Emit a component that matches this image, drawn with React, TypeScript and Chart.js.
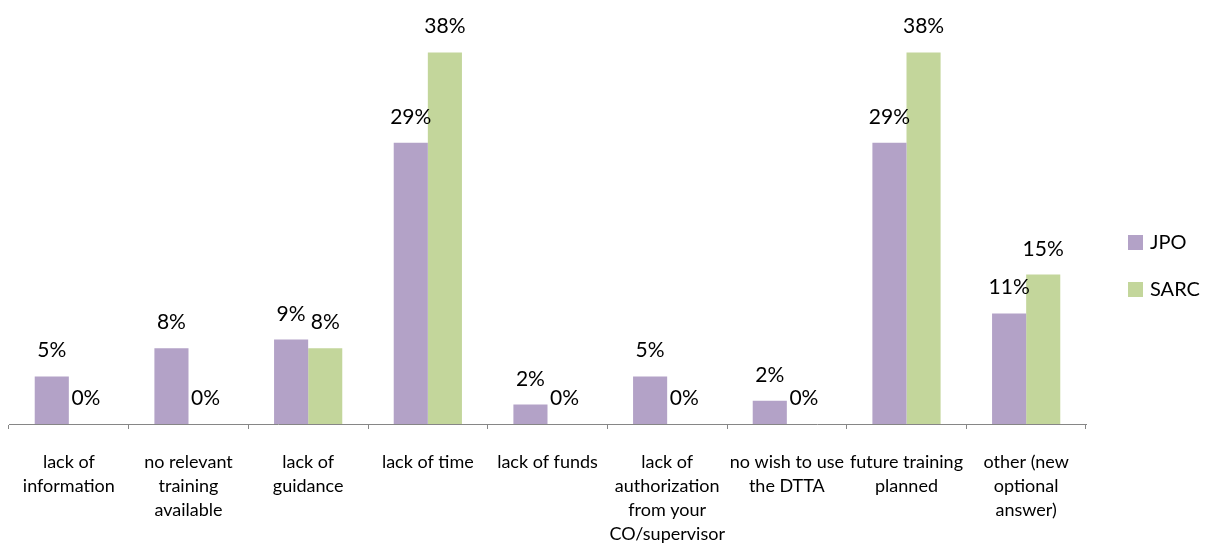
import React, { useEffect, useRef } from "react";
import { Chart, registerables } from "chart.js";

Chart.register(...registerables);

const categories: (string | string[])[] = [
  ["lack of", "information"],
  ["no relevant", "training", "available"],
  ["lack of", "guidance"],
  "lack of time",
  "lack of funds",
  ["lack of", "authorization", "from your", "CO/supervisor"],
  ["no wish to use", "the DTTA"],
  ["future training", "planned"],
  ["other (new", "optional", "answer)"],
];
const seriesNames = ["JPO", "SARC"];
const jpoValues = [4.9, 7.8, 8.7, 29.0, 2.0, 4.9, 2.4, 29.0, 11.4];
const sarcValues = [0, 0, 7.8, 38.3, 0, 0, 0, 38.3, 15.4];
const seriesColors = ["#B3A2C7", "#C3D69B"];

const FONT = "Lato, 'Open Sans', sans-serif";

const dataLabelPlugin = {
  id: "dataLabels",
  afterDatasetsDraw(chart: any) {
    const ctx = chart.ctx;
    ctx.save();
    ctx.font = `21px ${FONT}`;
    ctx.fillStyle = "#000000";
    ctx.textAlign = "center";
    ctx.textBaseline = "alphabetic";
    chart.data.datasets.forEach((ds: any, di: number) => {
      const meta = chart.getDatasetMeta(di);
      meta.data.forEach((el: any, i: number) => {
        const v = ds.data[i] as number;
        ctx.fillText(`${Math.round(v)}%`, el.x, el.y - 19);
      });
    });
    ctx.restore();
  },
};

const legendPlugin = {
  id: "sideLegend",
  afterDraw(chart: any) {
    const ctx = chart.ctx;
    const x = chart.chartArea.right + 42;
    const startY = chart.height / 2 - 37;
    ctx.save();
    ctx.font = `20px ${FONT}`;
    ctx.textAlign = "left";
    ctx.textBaseline = "middle";
    chart.data.datasets.forEach((ds: any, i: number) => {
      const y = startY + i * 47;
      ctx.fillStyle = ds.backgroundColor;
      ctx.fillRect(x, y, 15, 15);
      ctx.fillStyle = "#000000";
      ctx.fillText(ds.label, x + 22, y + 8);
    });
    ctx.restore();
  },
};

export default function App() {
  const canvasRef = useRef<HTMLCanvasElement | null>(null);

  useEffect(() => {
    if (!canvasRef.current) return;
    const chart = new Chart(canvasRef.current, {
      type: "bar",
      data: {
        labels: categories,
        datasets: [
          {
            label: seriesNames[0],
            data: jpoValues,
            backgroundColor: seriesColors[0],
            categoryPercentage: 0.57,
            barPercentage: 1,
          },
          {
            label: seriesNames[1],
            data: sarcValues,
            backgroundColor: seriesColors[1],
            categoryPercentage: 0.57,
            barPercentage: 1,
          },
        ],
      },
      options: {
        responsive: false,
        animation: false,
        layout: { padding: { left: 9, right: 135, top: 36, bottom: 0 } },
        plugins: {
          legend: { display: false },
          tooltip: { enabled: false },
        },
        scales: {
          x: {
            afterFit: (scale: any) => {
              scale.height = 120;
            },
            grid: {
              display: true,
              drawOnChartArea: false,
              drawTicks: true,
              tickLength: 5,
              color: "#868686",
              offset: true,
            },
            border: { display: true, color: "#868686", width: 1 },
            ticks: {
              autoSkip: false,
              maxRotation: 0,
              minRotation: 0,
              padding: 21,
              color: "#000000",
              font: { family: FONT, size: 18, lineHeight: 24 / 18 },
            },
          },
          y: {
            display: false,
            min: 0,
            max: 40,
          },
        },
      },
      plugins: [dataLabelPlugin, legendPlugin],
    });
    return () => chart.destroy();
  }, []);

  return (
    <div style={{ position: "absolute", left: 0, top: 0, width: 1221, height: 544, background: "#ffffff" }}>
      <canvas ref={canvasRef} width={1221} height={544} style={{ display: "block" }} />
    </div>
  );
}
